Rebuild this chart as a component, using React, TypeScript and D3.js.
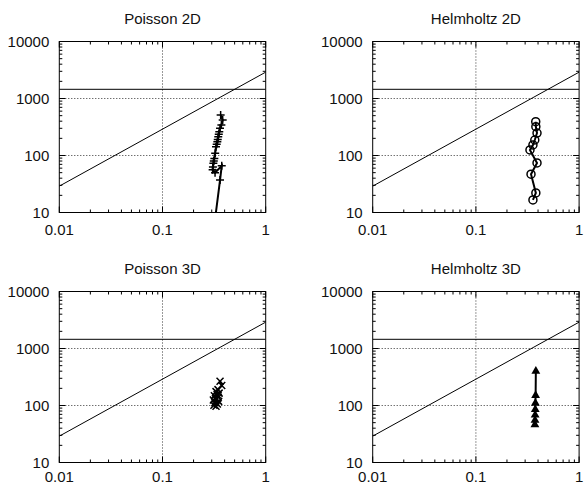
import React from 'react';
import * as d3 from 'd3';

const X_TICKS = [0.01, 0.1, 1];
const X_TICK_LABELS = ['0.01', '0.1', '1'];
const Y_TICKS = [10, 100, 1000, 10000];
const Y_TICK_LABELS = ['10', '100', '1000', '10000'];
const THRESHOLD = 1450;
const SLOPE = 2900;

const poisson2dX = [0.366, 0.383, 0.372, 0.361, 0.355, 0.351, 0.347, 0.343, 0.34, 0.335, 0.33, 0.324, 0.318, 0.314, 0.311, 0.308, 0.306, 0.323, 0.375, 0.361, 0.28];
const poisson2dY = [514, 420, 343, 300, 262, 235, 214, 190, 175, 158, 143, 109, 89, 80, 73, 63, 56, 50, 66, 37, 1];

const helmholtz2dX = [0.38, 0.381, 0.391, 0.372, 0.357, 0.334, 0.391, 0.342, 0.381, 0.357];
const helmholtz2dY = [392, 320, 248, 187, 153, 125, 74, 47, 22, 16.6];

const poisson3dX = [0.361, 0.375, 0.345, 0.33, 0.354, 0.338, 0.318, 0.347, 0.326, 0.311, 0.35, 0.322, 0.34, 0.315, 0.33];
const poisson3dY = [267, 224, 190, 175, 165, 155, 148, 140, 132, 125, 118, 112, 106, 101, 97];

const helmholtz3dX = [0.381, 0.379, 0.377, 0.376, 0.375, 0.374, 0.373];
const helmholtz3dY = [400, 150, 110, 85, 68, 55, 46];

const TITLES = ['Poisson 2D', 'Helmholtz 2D', 'Poisson 3D', 'Helmholtz 3D'];
const MARKERS = ['plus', 'circle', 'cross', 'triangle'];

const W = 206.4;
const H = 171;
const ORIGINS = [
  [59.3, 41.5, 22],
  [372.7, 41.5, 22],
  [59.3, 291.5, 19],
  [372.7, 291.5, 19],
];
const FONT = 'Liberation Sans, Arial, Helvetica, sans-serif';

function Marker({ type, x, y }: { type: string; x: number; y: number }) {
  if (type === 'plus') {
    return <path d={`M${x - 4},${y}H${x + 4}M${x},${y - 4}V${y + 4}`} stroke="#000" strokeWidth={1.5} fill="none" />;
  }
  if (type === 'cross') {
    return <path d={`M${x - 3.5},${y - 3.5}L${x + 3.5},${y + 3.5}M${x - 3.5},${y + 3.5}L${x + 3.5},${y - 3.5}`} stroke="#000" strokeWidth={1.5} fill="none" />;
  }
  if (type === 'circle') {
    return <circle cx={x} cy={y} r={4} stroke="#000" strokeWidth={1.5} fill="none" />;
  }
  const tri = d3.symbol(d3.symbolTriangle, 34)() as string;
  return <path d={tri} transform={`translate(${x},${y})`} fill="#000" />;
}

function Panel({ idx, xs, ys }: { idx: number; xs: number[]; ys: number[] }) {
  const [ox, oy, labOff] = ORIGINS[idx];
  const x = d3.scaleLog().domain([0.01, 1]).range([0, W]);
  const y = d3.scaleLog().domain([10, 10000]).range([H, 0]);
  const pts = xs.map((v, i) => [x(v), y(ys[i])] as [number, number]);
  const line = d3.line()(pts) as string;
  const xMinor: number[] = [];
  for (const d of [0.01, 0.1]) for (let k = 2; k <= 9; k++) xMinor.push(d * k);
  const yMinor: number[] = [];
  for (const d of [10, 100, 1000]) for (let k = 2; k <= 9; k++) yMinor.push(d * k);
  const clipId = `clip${idx}`;
  const diag = d3.line()([[x(0.01), y(SLOPE * 0.01)], [x(1), y(SLOPE * 1)]]) as string;
  return (
    <g transform={`translate(${ox},${oy})`}>
      <defs>
        <clipPath id={clipId}>
          <rect x={0} y={0} width={W} height={H} />
        </clipPath>
      </defs>
      <text x={W / 2} y={-18} textAnchor="middle" fontFamily={FONT} fontSize={15} fill="#111">
        {TITLES[idx]}
      </text>
      {X_TICKS.slice(1, -1).map((t) => (
        <line key={'gx' + t} x1={x(t)} x2={x(t)} y1={0} y2={H} stroke="#333" strokeWidth={1} strokeDasharray="1,2" />
      ))}
      {Y_TICKS.slice(1, -1).map((t) => (
        <line key={'gy' + t} x1={0} x2={W} y1={y(t)} y2={y(t)} stroke="#333" strokeWidth={1} strokeDasharray="1,2" />
      ))}
      {X_TICKS.map((t) => (
        <g key={'xt' + t}>
          <line x1={x(t)} x2={x(t)} y1={H} y2={H - 6} stroke="#000" />
          <line x1={x(t)} x2={x(t)} y1={0} y2={6} stroke="#000" />
        </g>
      ))}
      {xMinor.map((t) => (
        <g key={'xm' + t}>
          <line x1={x(t)} x2={x(t)} y1={H} y2={H - 3} stroke="#000" />
          <line x1={x(t)} x2={x(t)} y1={0} y2={3} stroke="#000" />
        </g>
      ))}
      {Y_TICKS.map((t) => (
        <g key={'yt' + t}>
          <line x1={0} x2={6} y1={y(t)} y2={y(t)} stroke="#000" />
          <line x1={W} x2={W - 6} y1={y(t)} y2={y(t)} stroke="#000" />
        </g>
      ))}
      {yMinor.map((t) => (
        <g key={'ym' + t}>
          <line x1={0} x2={3} y1={y(t)} y2={y(t)} stroke="#000" />
          <line x1={W} x2={W - 3} y1={y(t)} y2={y(t)} stroke="#000" />
        </g>
      ))}
      {X_TICKS.map((t, i) => (
        <text key={'xl' + t} x={x(t)} y={H + labOff} textAnchor="middle" fontFamily={FONT} fontSize={15} fill="#111">
          {X_TICK_LABELS[i]}
        </text>
      ))}
      {Y_TICKS.map((t, i) => (
        <text key={'yl' + t} x={-10} y={y(t) + 5.3} textAnchor="end" fontFamily={FONT} fontSize={15} fill="#111">
          {Y_TICK_LABELS[i]}
        </text>
      ))}
      <g clipPath={`url(#${clipId})`}>
        <line x1={0} x2={W} y1={y(THRESHOLD)} y2={y(THRESHOLD)} stroke="#000" strokeWidth={1} />
        <path d={diag} stroke="#000" strokeWidth={1} fill="none" />
        <path d={line} stroke="#000" strokeWidth={2} fill="none" />
        {pts.map((p, i) => (
          <Marker key={i} type={MARKERS[idx]} x={p[0]} y={p[1]} />
        ))}
      </g>
      <rect x={0} y={0} width={W} height={H} fill="none" stroke="#000" strokeWidth={1} />
    </g>
  );
}

export default function App() {
  const data: [number[], number[]][] = [
    [poisson2dX, poisson2dY],
    [helmholtz2dX, helmholtz2dY],
    [poisson3dX, poisson3dY],
    [helmholtz3dX, helmholtz3dY],
  ];
  return (
    <svg width={584} height={484} style={{ position: 'absolute', left: 0, top: 0, background: '#fff' }}>
      <rect width={584} height={484} fill="#fff" />
      {data.map((d, i) => (
        <Panel key={i} idx={i} xs={d[0]} ys={d[1]} />
      ))}
    </svg>
  );
}
